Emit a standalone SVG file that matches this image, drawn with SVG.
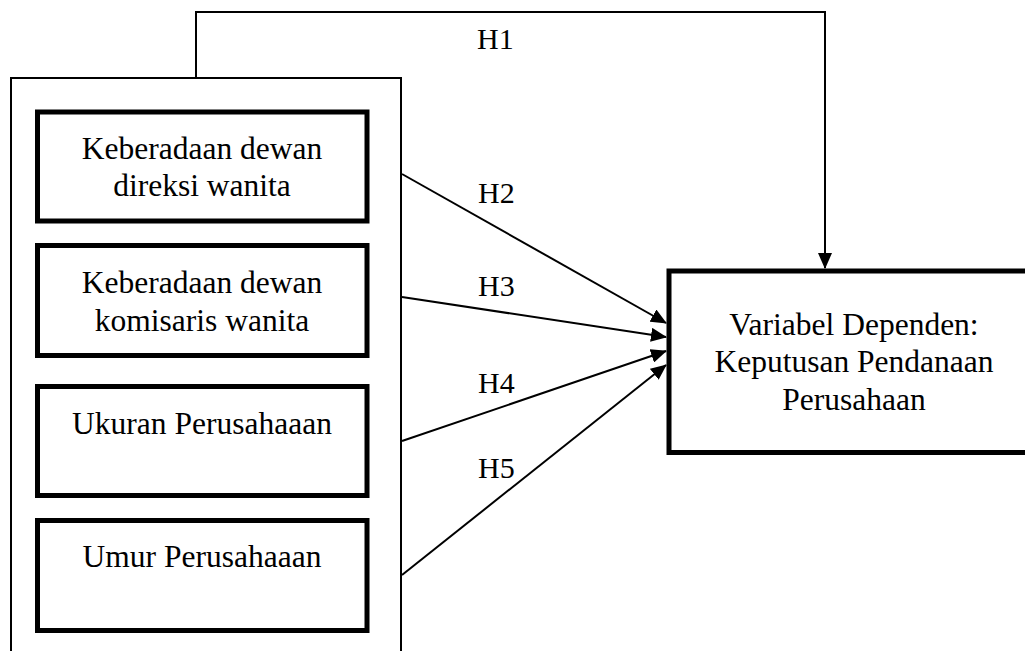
<svg xmlns="http://www.w3.org/2000/svg" width="1025" height="651" viewBox="0 0 1025 651">
<defs>
<style>
.thin{fill:none;stroke:#000;stroke-width:2}
.box{fill:#fff;stroke:#000;stroke-width:5}
.t{font-family:"Liberation Serif","Times New Roman",serif;font-size:31.5px;fill:#000;text-anchor:middle}
.lbl{font-family:"Liberation Serif","Times New Roman",serif;font-size:30px;fill:#000}
.con{fill:none;stroke:#000;stroke-width:2}
</style>
<marker id="ah" markerWidth="16" markerHeight="14" refX="15" refY="7" orient="auto" markerUnits="userSpaceOnUse">
<path d="M0,0 L16,7 L0,14 z" fill="#000"/>
</marker>
</defs>
<rect width="1025" height="651" fill="#fff"/>
<g id="independen">
<rect class="thin" x="11" y="78" width="390" height="600"/>
</g>
<g id="n1">
<rect class="box" x="37.5" y="112" width="329.5" height="109"/>
<text class="t" x="202" y="159">Keberadaan dewan</text>
<text class="t" x="202" y="196">direksi wanita</text>
</g>
<g id="n2">
<rect class="box" x="37.5" y="245.5" width="329.5" height="110"/>
<text class="t" x="202" y="293">Keberadaan dewan</text>
<text class="t" x="202" y="331">komisaris wanita</text>
</g>
<g id="n3">
<rect class="box" x="37.5" y="386.5" width="329.5" height="109"/>
<text class="t" x="202" y="434">Ukuran Perusahaaan</text>
</g>
<g id="n4">
<rect class="box" x="37.5" y="520.5" width="329.5" height="110"/>
<text class="t" x="202" y="567">Umur Perusahaaan</text>
</g>
<g id="dependen">
<rect class="box" x="669" y="271" width="400" height="181.5"/>
<text class="t" x="854" y="335">Variabel Dependen:</text>
<text class="t" x="854" y="372">Keputusan Pendanaan</text>
<text class="t" x="854" y="410">Perusahaan</text>
</g>
<g id="connectors">
<path class="con" d="M196,78 V12 H825 V268" marker-end="url(#ah)"/>
<line class="con" x1="402" y1="174" x2="666" y2="323" marker-end="url(#ah)"/>
<line class="con" x1="402" y1="297" x2="666" y2="337" marker-end="url(#ah)"/>
<line class="con" x1="402" y1="441" x2="666" y2="351" marker-end="url(#ah)"/>
<line class="con" x1="402" y1="575" x2="666" y2="365" marker-end="url(#ah)"/>
<text class="lbl" x="477" y="49">H1</text>
<text class="lbl" x="478" y="203">H2</text>
<text class="lbl" x="478" y="296">H3</text>
<text class="lbl" x="478" y="393">H4</text>
<text class="lbl" x="478" y="478">H5</text>
</g>
</svg>
